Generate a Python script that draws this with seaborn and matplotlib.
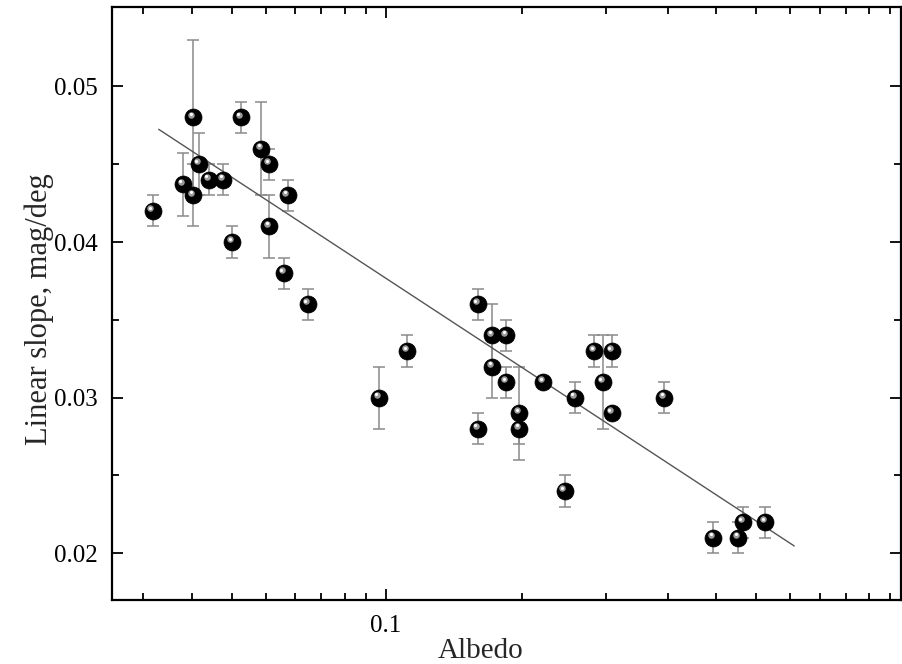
import numpy as np
import matplotlib
matplotlib.use("Agg")
import matplotlib.pyplot as plt
import matplotlib.transforms as mtransforms
from matplotlib.ticker import FixedLocator, NullFormatter, FixedFormatter
import seaborn as sns

# dados
albedo = [0.0218, 0.028, 0.0304, 0.0304, 0.0317, 0.0341, 0.0378, 0.0402, 0.0426,
          0.0487, 0.0512, 0.0512, 0.0573, 0.056, 0.0646, 0.0965, 0.1121,
          0.161, 0.161, 0.1732, 0.1732, 0.1856, 0.1856, 0.1978, 0.1978, 0.222,
          0.246, 0.2584, 0.2834, 0.2952, 0.308, 0.308, 0.3936,
          0.4927, 0.5526, 0.5646, 0.6262]
slope = [0.042, 0.0437, 0.048, 0.043, 0.045, 0.044, 0.044, 0.040, 0.048,
         0.046, 0.045, 0.041, 0.043, 0.038, 0.036, 0.030, 0.033,
         0.036, 0.028, 0.034, 0.032, 0.034, 0.031, 0.029, 0.028, 0.031,
         0.024, 0.030, 0.033, 0.031, 0.033, 0.029, 0.030,
         0.021, 0.021, 0.022, 0.022]
erro = [0.001, 0.002, 0.005, 0.002, 0.002, 0.001, 0.001, 0.001, 0.001,
        0.003, 0.001, 0.002, 0.001, 0.001, 0.001, 0.002, 0.001,
        0.001, 0.001, 0.002, 0.002, 0.001, 0.001, 0.003, 0.001, 0.0,
        0.001, 0.001, 0.001, 0.003, 0.001, 0.0, 0.001,
        0.001, 0.001, 0.001, 0.001]

# reta ajustada (extremos)
fit_x = [0.023, 0.7135]
fit_y = [0.04724, 0.02047]

minor_x = [0.02, 0.03, 0.04, 0.05, 0.06, 0.07, 0.08, 0.09,
           0.2, 0.3, 0.4, 0.5, 0.6, 0.7, 0.8, 0.9, 1.0, 1.1]
y_ticks = [0.02, 0.03, 0.04, 0.05]

sns.set_theme(style="ticks")
plt.rcParams['font.family'] = ['Liberation Serif', 'DejaVu Serif']

fig = plt.figure(figsize=(9.02, 6.64), dpi=100)
ax = fig.add_axes([0.1238, 0.0964, 0.8751, 0.8931])

# escala do eixo x (log deslocado, como no original)
ax.set_xscale('function', functions=(lambda v: np.log10(v + 0.022),
                                     lambda v: 10 ** v - 0.022))

ax.errorbar(albedo, slope, yerr=erro, fmt='none', ecolor='#8a8a8a',
            elinewidth=1.1, capsize=4.6, capthick=1.1, zorder=2)

sns.lineplot(x=fit_x, y=fit_y, color='#555555', linewidth=1.0, ax=ax, zorder=3)

sns.scatterplot(x=albedo, y=slope, s=150, color='black', edgecolor='black',
                linewidth=0.5, ax=ax, zorder=4)
# brilho das esferas
desloc = mtransforms.ScaledTranslation(-1.5 / 72, 2 / 72, fig.dpi_scale_trans)
ax.scatter(albedo, slope, s=22, color='#9a9a9a', linewidths=0,
           transform=ax.transData + desloc, zorder=5)
desloc2 = mtransforms.ScaledTranslation(-1.8 / 72, 2.4 / 72, fig.dpi_scale_trans)
ax.scatter(albedo, slope, s=5, color='white', linewidths=0,
           transform=ax.transData + desloc2, zorder=6)

ax.set_xlim(0.0146, 1.154)
ax.set_ylim(0.017, 0.0551)

ax.xaxis.set_major_locator(FixedLocator([0.1]))
ax.xaxis.set_major_formatter(FixedFormatter(['0.1']))
ax.xaxis.set_minor_locator(FixedLocator(minor_x))
ax.xaxis.set_minor_formatter(NullFormatter())
ax.yaxis.set_major_locator(FixedLocator(y_ticks))
ax.yaxis.set_major_formatter(FixedFormatter(['0.02', '0.03', '0.04', '0.05']))
ax.yaxis.set_minor_locator(FixedLocator([0.025, 0.035, 0.045]))

ax.tick_params(which='both', direction='in', top=True, right=True,
               labelsize=18, colors='black', width=1.3)
ax.tick_params(axis='x', pad=11)
ax.tick_params(axis='y', pad=10)
ax.tick_params(which='major', length=8)
ax.tick_params(which='minor', length=5)

for sp in ax.spines.values():
    sp.set_linewidth(1.6)
    sp.set_color('black')

ax.set_xlabel('Albedo', fontsize=21)
ax.xaxis.set_label_coords(0.468, -0.064)
ax.set_ylabel('Linear slope, mag/deg', fontsize=22)
ax.yaxis.set_label_coords(-0.073, 0.49)

plt.savefig('out.png', dpi=100)
